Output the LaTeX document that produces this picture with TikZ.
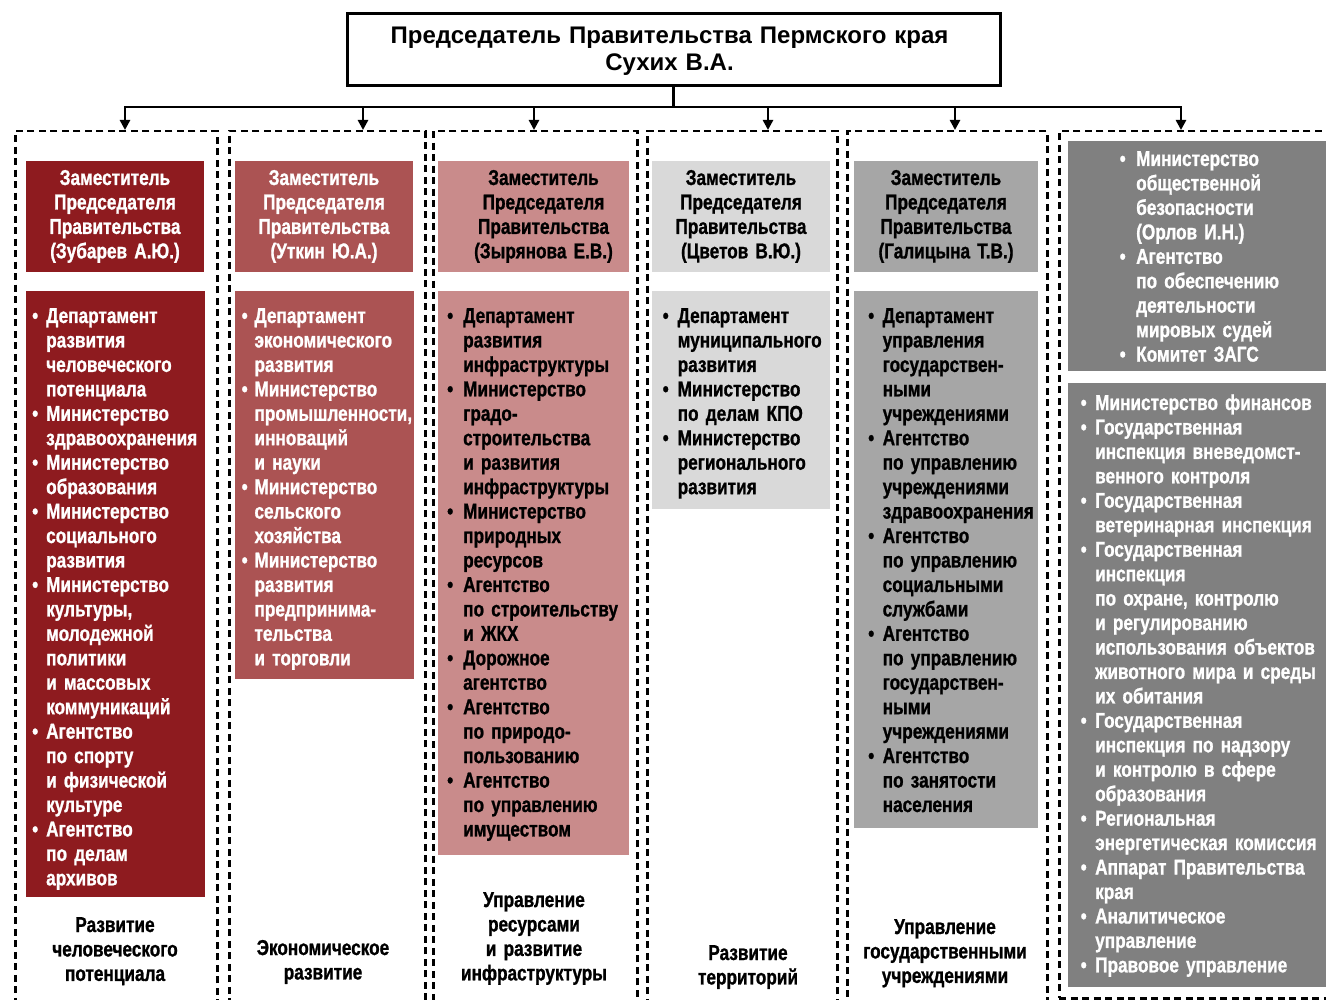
\documentclass[tikz,border=0pt]{standalone}
\usepackage{fontspec}
\setmainfont{Liberation Sans}
\newfontfamily\cond{Liberation Sans}[FakeStretch=0.80, FakeBold=1]
\usetikzlibrary{arrows.meta}
\definecolor{cA}{HTML}{8E1B1F}
\definecolor{cB}{HTML}{AB5353}
\definecolor{cC}{HTML}{C98B8B}
\definecolor{cD}{HTML}{D9D9D9}
\definecolor{cE}{HTML}{A6A6A6}
\definecolor{cF}{HTML}{808080}
\newlength\bulw
\newcommand\bul[1]{{\let\\\newline\hangindent\bulw\hangafter1\noindent\makebox[\bulw][l]{\textbullet}#1\par}}
\tikzset{
  fnt/.style={font=\cond\bfseries\fontsize{21.5}{24.45}\selectfont},
  lst/.style={fnt, anchor=base west, inner sep=0pt, text width=260pt},
  dep/.style={fnt, anchor=base, inner sep=0pt, text width=200pt, align=center},
  pan/.style={anchor=north west, inner sep=0pt, outer sep=0pt},
  grp/.style={anchor=north west, inner sep=0pt, draw, line width=2.5pt, dash pattern=on 7pt off 4.5pt},
  conn/.style={line width=2.5pt},
  arr/.style={conn, -{Triangle[length=10pt,width=10pt]}},
}
\begin{document}
\begin{tikzpicture}[x=1pt,y=-1pt]
\useasboundingbox (0,0) rectangle (1326,1000);
\fill[white] (0,0) rectangle (1326,1000);
% title
\node[draw, line width=3pt, minimum width=653pt, minimum height=72pt, inner sep=0pt] (top) at (673.5,50) {};
\node[anchor=base, inner sep=0pt, text width=640pt, align=center, font=\bfseries\fontsize{24}{27}\selectfont] (toptxt) at (669.5,44) {Председатель Правительства Пермского края\\Сухих В.А.};
% groups
\node[grp, minimum width=202pt, minimum height=880pt] (g1) at (14,130) {};
\node[grp, minimum width=196pt, minimum height=880pt] (g2) at (228,130) {};
\node[grp, minimum width=204pt, minimum height=880pt] (g3) at (432,130) {};
\node[grp, minimum width=190pt, minimum height=880pt] (g4) at (646,130) {};
\node[grp, minimum width=200pt, minimum height=880pt] (g5) at (846,130) {};
\node[grp, minimum width=290pt, minimum height=867pt] (g6) at (1058,130) {};
% connectors
\coordinate (bus) at (673.5,107);
\coordinate (b1) at (125,107);
\coordinate (b2) at (363,107);
\coordinate (b3) at (534,107);
\coordinate (b4) at (768,107);
\coordinate (b5) at (955,107);
\coordinate (b6) at (1181,107);
\draw[conn] (top.south) -- (bus);
\draw[conn, line cap=rect] (b1) -- (b6);
\draw[arr] (b1) -- (b1 |- g1.north);
\draw[arr] (b2) -- (b2 |- g2.north);
\draw[arr] (b3) -- (b3 |- g3.north);
\draw[arr] (b4) -- (b4 |- g4.north);
\draw[arr] (b5) -- (b5 |- g5.north);
\draw[arr] (b6) -- (b6 |- g6.north);
% deputy panels
\node[pan, fill=cA, minimum width=178pt, minimum height=111pt] (d1) at (26,161) {};
\node[pan, fill=cB, minimum width=178pt, minimum height=111pt] (d2) at (235,161) {};
\node[pan, fill=cC, minimum width=191pt, minimum height=111pt] (d3) at (438,161) {};
\node[pan, fill=cD, minimum width=178pt, minimum height=111pt] (d4) at (652,161) {};
\node[pan, fill=cE, minimum width=184pt, minimum height=111pt] (d5) at (854,161) {};
\node[pan, fill=cF, minimum width=270pt, minimum height=230pt] (d6) at (1068,141) {};
\node[dep, text=white] (dt1) at (115,185) {Заместитель\\Председателя\\Правительства\\(Зубарев А.Ю.)};
\node[dep, text=white] (dt2) at (324,185) {Заместитель\\Председателя\\Правительства\\(Уткин Ю.А.)};
\node[dep] (dt3) at (543.5,185) {Заместитель\\Председателя\\Правительства\\(Зырянова Е.В.)};
\node[dep] (dt4) at (741,185) {Заместитель\\Председателя\\Правительства\\(Цветов В.Ю.)};
\node[dep] (dt5) at (946,185) {Заместитель\\Председателя\\Правительства\\(Галицына Т.В.)};
% list panels
\node[pan, fill=cA, minimum width=179pt, minimum height=606pt] (p1) at (26,291) {};
\node[pan, fill=cB, minimum width=179pt, minimum height=388pt] (p2) at (235,291) {};
\node[pan, fill=cC, minimum width=191pt, minimum height=564pt] (p3) at (438,291) {};
\node[pan, fill=cD, minimum width=178pt, minimum height=218pt] (p4) at (652,291) {};
\node[pan, fill=cE, minimum width=184pt, minimum height=537pt] (p5) at (854,291) {};
\node[pan, fill=cF, minimum width=270pt, minimum height=604pt] (p6) at (1068,383) {};
% lists
\node[lst, text=white] (l1) at (32,323) {\setlength\bulw{14pt}%
\bul{Департамент\\развития\\человеческого\\потенциала}%
\bul{Министерство\\здравоохранения}%
\bul{Министерство\\образования}%
\bul{Министерство\\социального\\развития}%
\bul{Министерство\\культуры,\\молодежной\\политики\\и массовых\\коммуникаций}%
\bul{Агентство\\по спорту\\и физической\\культуре}%
\bul{Агентство\\по делам\\архивов}};
\node[lst, text=white] (l2) at (241.5,323) {\setlength\bulw{12.8pt}%
\bul{Департамент\\экономического\\развития}%
\bul{Министерство\\промышленности,\\инноваций\\и науки}%
\bul{Министерство\\сельского\\хозяйства}%
\bul{Министерство\\развития\\предпринима-\\тельства\\и торговли}};
\node[lst] (l3) at (447,323) {\setlength\bulw{16pt}%
\bul{Департамент\\развития\\инфраструктуры}%
\bul{Министерство\\градо-\\строительства\\и развития\\инфраструктуры}%
\bul{Министерство\\природных\\ресурсов}%
\bul{Агентство\\по строительству\\и ЖКХ}%
\bul{Дорожное\\агентство}%
\bul{Агентство\\по природо-\\пользованию}%
\bul{Агентство\\по управлению\\имуществом}};
\node[lst] (l4) at (662.5,323) {\setlength\bulw{15pt}%
\bul{Департамент\\муниципального\\развития}%
\bul{Министерство\\по делам КПО}%
\bul{Министерство\\регионального\\развития}};
\node[lst] (l5) at (868,323) {\setlength\bulw{14.5pt}%
\bul{Департамент\\управления\\государствен-\\ными\\учреждениями}%
\bul{Агентство\\по управлению\\учреждениями\\здравоохранения}%
\bul{Агентство\\по управлению\\социальными\\службами}%
\bul{Агентство\\по управлению\\государствен-\\ными\\учреждениями}%
\bul{Агентство\\по занятости\\населения}};
\node[lst, text=white] (l6a) at (1119.5,166) {\setlength\bulw{16.5pt}%
\bul{Министерство\\общественной\\безопасности\\(Орлов И.Н.)}%
\bul{Агентство\\по обеспечению\\деятельности\\мировых судей}%
\bul{Комитет ЗАГС}};
\node[lst, text=white] (l6b) at (1080.5,410) {\setlength\bulw{14.5pt}%
\bul{Министерство финансов}%
\bul{Государственная\\инспекция вневедомст-\\венного контроля}%
\bul{Государственная\\ветеринарная инспекция}%
\bul{Государственная\\инспекция\\по охране, контролю\\и регулированию\\использования объектов\\животного мира и среды\\их обитания}%
\bul{Государственная\\инспекция по надзору\\и контролю в сфере\\образования}%
\bul{Региональная\\энергетическая комиссия}%
\bul{Аппарат Правительства\\края}%
\bul{Аналитическое\\управление}%
\bul{Правовое управление}};
% bottom labels
\node[dep] (s1) at (115,932) {Развитие\\человеческого\\потенциала};
\node[dep] (s2) at (323,955) {Экономическое\\развитие};
\node[dep] (s3) at (534,907) {Управление\\ресурсами\\и развитие\\инфраструктуры};
\node[dep] (s4) at (748,960) {Развитие\\территорий};
\node[dep] (s5) at (945,934) {Управление\\государственными\\учреждениями};
\end{tikzpicture}
\end{document}
